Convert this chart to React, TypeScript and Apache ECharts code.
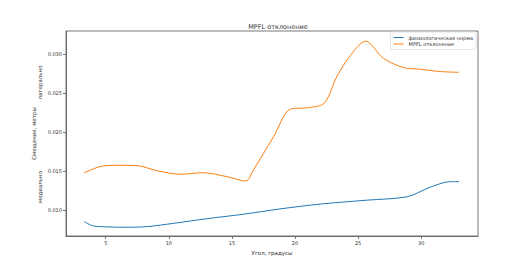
import React, { useEffect, useRef } from "react";
import * as echarts from "echarts";

const normX = [3.3, 4.0, 5.0, 6.4, 8.25, 10.4, 13.0, 15.9, 18.8, 22.0, 25.7, 28.9, 30.7, 32.3, 33.0];
const normY = [0.00854, 0.00799, 0.00788, 0.00782, 0.0079, 0.00833, 0.00892, 0.00949, 0.01017, 0.0108, 0.0113, 0.01174, 0.01295, 0.01367, 0.01367];

const mpflX = [3.3, 4.55, 5.9, 7.5, 9.05, 10.9, 12.75, 14.6, 16.1, 16.7, 18.3, 19.6, 20.95, 22.3, 23.3, 24.4, 25.6, 27.0, 28.6, 29.9, 31.5, 33.0];
const mpflY = [0.01482, 0.0156, 0.01577, 0.01572, 0.01508, 0.01462, 0.01482, 0.01431, 0.01376, 0.01517, 0.01944, 0.02295, 0.02315, 0.02372, 0.0271, 0.0299, 0.0317, 0.0295, 0.0283, 0.0281, 0.0278, 0.0277];

const xTicks = [5, 10, 15, 20, 25, 30];
const yTicks = [0.01, 0.015, 0.02, 0.025, 0.03];

const seriesNames = ["физиологическая норма", "MPFL отклонение"];
const title = "MPFL отклонение";
const xName = "Угол, градусы";
const yName = "Смещение, метры";
const topNote = "латерально";
const bottomNote = "медиально";

const FONT = "DejaVu Sans";
const TXT = "#333";

export default function App() {
  const ref = useRef<HTMLDivElement>(null);
  useEffect(() => {
    const chart = echarts.init(ref.current!, null, { renderer: "svg" });
    const pairs = (xs: number[], ys: number[]) => xs.map((x, i) => [x, ys[i]]);
    chart.setOption({
      animation: false,
      backgroundColor: "#fff",
      textStyle: { fontFamily: FONT },
      title: {
        text: title,
        left: 273,
        top: 18,
        textAlign: "center",
        textStyle: { fontSize: 6.5, fontWeight: "normal", color: TXT, fontFamily: FONT },
      },
      legend: {
        orient: "vertical",
        right: 55,
        top: 32,
        icon: "rect",
        itemWidth: 10,
        itemHeight: 1,
        itemGap: 1.5,
        padding: [3, 3, 3, 3],
        borderColor: "#ddd",
        borderWidth: 0.8,
        borderRadius: 2,
        backgroundColor: "rgba(255,255,255,0.8)",
        textStyle: { fontSize: 5, color: TXT, fontFamily: FONT },
        data: seriesNames,
      },
      grid: { left: 66, right: 53, top: 31, bottom: 33, show: true, borderColor: "#555", borderWidth: 0.8 },
      xAxis: {
        type: "value",
        min: 1.85,
        max: 34.5,
        name: xName,
        nameLocation: "middle",
        nameGap: 13,
        nameTextStyle: { fontSize: 5.5, color: TXT, fontFamily: FONT },
        axisLine: { show: true, lineStyle: { color: "#555", width: 0.8 } },
        axisTick: { show: true, length: 3, customValues: xTicks, lineStyle: { color: "#555", width: 0.8 } },
        axisLabel: { customValues: xTicks, fontSize: 5, color: TXT, margin: 4, fontFamily: FONT },
        splitLine: { show: false },
      },
      yAxis: {
        type: "value",
        min: 0.0067,
        max: 0.033,
        name: yName,
        nameLocation: "middle",
        nameRotate: 90,
        nameGap: 22,
        nameTextStyle: { fontSize: 5.5, color: TXT, fontFamily: FONT },
        axisLine: { show: true, lineStyle: { color: "#555", width: 0.8 } },
        axisTick: { show: true, length: 3, customValues: yTicks, lineStyle: { color: "#555", width: 0.8 } },
        axisLabel: {
          customValues: yTicks,
          fontSize: 5,
          color: TXT,
          margin: 4,
          fontFamily: FONT,
          formatter: (v: number) => v.toFixed(3),
        },
        splitLine: { show: false },
      },
      graphic: [
        {
          type: "text",
          x: 40,
          y: 82.5,
          rotation: Math.PI / 2,
          style: { text: topNote, fontSize: 5.5, fill: TXT, fontFamily: FONT, textAlign: "center", textVerticalAlign: "middle" },
        },
        {
          type: "text",
          x: 40,
          y: 187,
          rotation: Math.PI / 2,
          style: { text: bottomNote, fontSize: 5.5, fill: TXT, fontFamily: FONT, textAlign: "center", textVerticalAlign: "middle" },
        },
      ],
      series: [
        {
          name: seriesNames[0],
          type: "line",
          data: pairs(normX, normY),
          showSymbol: false,
          symbol: "none",
          smooth: 0.3,
          lineStyle: { color: "#1f77b4", width: 1 },
          itemStyle: { color: "#1f77b4" },
        },
        {
          name: seriesNames[1],
          type: "line",
          data: pairs(mpflX, mpflY),
          showSymbol: false,
          symbol: "none",
          smooth: 0.3,
          lineStyle: { color: "#ff7f0e", width: 1 },
          itemStyle: { color: "#ff7f0e" },
        },
      ],
    });
    return () => chart.dispose();
  }, []);
  return (
    <div
      ref={ref}
      style={{ position: "fixed", left: 0, top: 0, width: 531, height: 269, background: "#fff" }}
    />
  );
}
